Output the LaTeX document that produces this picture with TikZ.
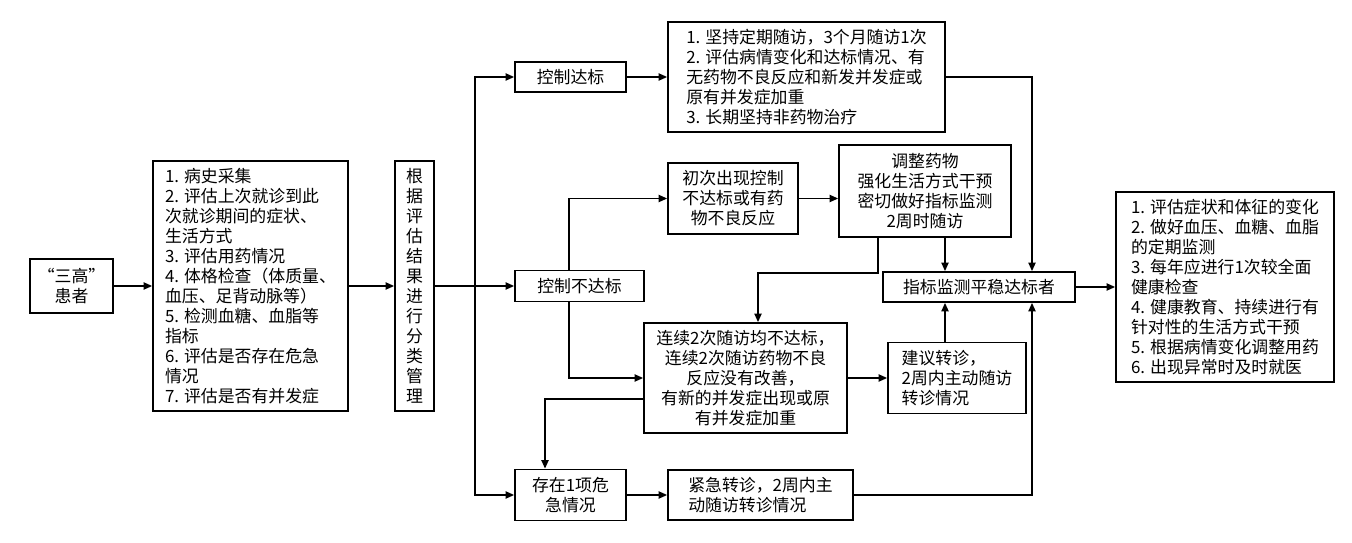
\documentclass[tikz,border=0pt]{standalone}
\usepackage{fontspec}
\setmainfont{Noto Sans CJK SC}
\usetikzlibrary{arrows.meta}

\begin{document}
\begin{tikzpicture}[x=0.025cm, y=-0.025cm,
  every node/.style={font=\fontsize{12pt}{14.2pt}\selectfont},
  box/.style={draw, line width=1.2pt, inner sep=0pt, align=center},
  lbox/.style={box, align=left},
  sz/.style 2 args={minimum width=#1*0.025cm, minimum height=#2*0.025cm},
  arr/.style={line width=1.2pt, -{Triangle[length=6pt,width=5pt]}}
]
  \useasboundingbox (0,0) rectangle (1352,543);

  % left column
  \node[box, sz={83}{54}] (patient) at (71.5,286) {“三高”\\患者};
  \node[lbox, sz={195}{250}] (assess) at (250.5,286) {1. 病史采集\\2. 评估上次就诊到此\\次就诊期间的症状、\\生活方式\\3. 评估用药情况\\4. 体格检查（体质量、\\血压、足背动脉等）\\5. 检测血糖、血脂等\\指标\\6. 评估是否存在危急\\情况\\7. 评估是否有并发症};
  \node[box, sz={39}{250}] (classify) at (414.5,286) {根\\据\\评\\估\\结\\果\\进\\行\\分\\类\\管\\理};

  % branches
  \node[box, sz={111}{30}] (reach) at (570.5,77) {控制达标};
  \node[lbox, sz={277}{110}] (reachcare) at (806.5,77) {1. 坚持定期随访，3个月随访1次\\2. 评估病情变化和达标情况、有\\无药物不良反应和新发并发症或\\原有并发症加重\\3. 长期坚持非药物治疗};
  \node[box, sz={130}{71}] (first) at (733,198.5) {初次出现控制\\不达标或有药\\物不良反应};
  \node[box, sz={172}{92}] (adjust) at (925,191) {调整药物\\强化生活方式干预\\密切做好指标监测\\2周时随访};
  \node[box, sz={129}{31}] (notreach) at (579.5,286) {控制不达标};
  \node[box, sz={203}{110}] (twice) at (745.5,378) {连续2次随访均不达标，\\连续2次随访药物不良\\反应没有改善，\\有新的并发症出现或原\\有并发症加重};
  \node[box, sz={111}{51}] (danger) at (570.5,495) {存在1项危\\急情况};
  \node[lbox, sz={185}{50}] (urgent) at (760.5,495) {紧急转诊，2周内主\\动随访转诊情况};

  % right column
  \node[box, sz={192}{30}] (stable) at (979,287) {指标监测平稳达标者};
  \node[lbox, sz={138}{71}] (refer) at (957,378) {建议转诊，\\2周内主动随访\\转诊情况};
  \node[lbox, sz={218}{190}] (follow) at (1225,287) {1. 评估症状和体征的变化\\2. 做好血压、血糖、血脂\\的定期监测\\3. 每年应进行1次较全面\\健康检查\\4. 健康教育、持续进行有\\针对性的生活方式干预\\5. 根据病情变化调整用药\\6. 出现异常时及时就医};

  % bend points
  \coordinate (bx) at (475,0);
  \coordinate (lx) at (569,0);
  \coordinate (dx) at (545,399);
  \coordinate (ax) at (878,273);
  \coordinate (tx) at (758,0);
  \coordinate (mx) at (945,0);
  \coordinate (rx) at (1032,0);

  % connectors
  \draw[arr] (patient) -- (assess);
  \draw[arr] (assess) -- (classify);
  \draw[arr] (classify) -- (notreach);
  \draw[arr] (bx |- classify.east) |- (reach);
  \draw[arr] (bx |- classify.east) |- (danger);
  \draw[arr] (reach) -- (reachcare);
  \draw[arr] (reachcare) -| (rx |- stable.north);
  \draw[arr] (lx |- notreach.north) |- (first);
  \draw[arr] (lx |- notreach.south) |- (twice);
  \draw[arr] (first) -- (first -| adjust.west);
  \draw[arr] (adjust.south -| ax) -- (ax) -| (tx |- twice.north);
  \draw[arr] (mx |- adjust.south) -- (mx |- stable.north);
  \draw[arr] (mx |- refer.north) -- (mx |- stable.south);
  \draw[arr] (twice) -- (twice -| refer.west);
  \draw[arr] (twice.west |- dx) -| (dx |- danger.north);
  \draw[arr] (danger) -- (urgent);
  \draw[arr] (urgent) -| (rx |- stable.south);
  \draw[arr] (stable) -- (follow);
\end{tikzpicture}
\end{document}
